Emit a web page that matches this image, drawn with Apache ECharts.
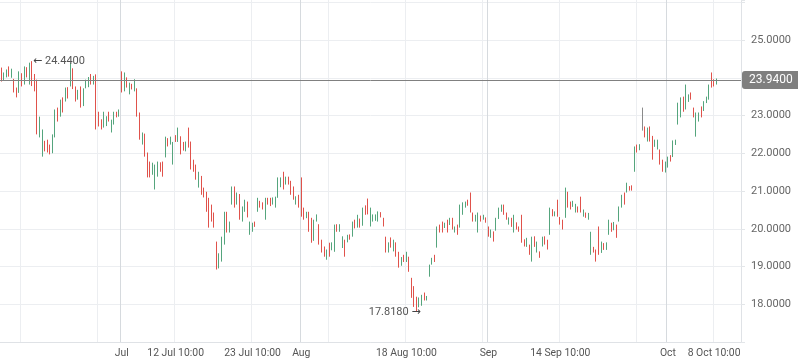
<!DOCTYPE html>
<html><head><meta charset="utf-8">
<script src="https://cdn.jsdelivr.net/npm/echarts@6/dist/echarts.min.js"></script>
<style>html,body{margin:0;padding:0;background:#fff}#c{width:798px;height:363px}</style>
</head><body><div id="c"></div>
<script>
const slotCount = 289;
const categories = Array.from({length: slotCount}, (_, i) => 'c' + i);
const tickLabels = [[47,'Jul'],[68,'12 Jul 10:00'],[98,'23 Jul 10:00'],[117,'Aug'],[158,'18 Aug 10:00'],[190,'Sep'],[218,'14 Sep 10:00'],[260,'Oct'],[278,'8 Oct 10:00']];
const gridLines = [8,38,47,68,98,117,128,158,188,190,218,248,260,278];
const monthLines = [47,117,190,260];
const yTicks = [18,19,20,21,22,23,25];
const lastPrice = 23.94;
// [open, close, low, high]
const ohlc = [
[24.25,23.95,23.90,24.27],[23.95,24.10,23.92,24.14],[24.05,24.20,24.01,24.22],[24.25,24.05,24.03,24.30],[24.05,24.20,24.00,24.24],
[23.95,23.65,23.61,23.97],[23.72,23.52,23.48,23.74],[23.65,24.10,23.60,24.17],[24.09,23.80,23.77,24.12],[23.85,24.25,23.82,24.30],
[24.25,24.05,24.01,24.28],[23.90,24.35,23.82,24.40],[24.20,23.85,23.78,24.44],[23.85,23.70,23.64,24.10],[23.80,22.55,22.50,23.95],
[22.50,22.90,22.42,22.97],[22.05,22.60,21.91,22.63],[22.30,22.08,22.05,22.33],[22.34,22.05,22.02,22.36],[22.20,22.00,21.97,22.23],
[22.02,22.45,22.00,22.50],[22.45,23.10,22.42,23.16],[23.18,22.88,22.84,23.21],[22.98,23.38,22.97,23.42],[23.45,23.12,23.08,23.48],
[23.40,23.70,23.37,23.74],[23.72,23.48,23.45,23.75],[23.78,24.35,23.77,24.40],[24.20,23.75,23.70,24.25],[23.75,23.40,23.37,23.77],
[23.45,23.65,23.42,23.68],[23.75,23.25,23.21,23.77],[23.28,23.70,23.25,23.72],[23.74,23.92,23.72,23.95],[23.78,24.00,23.75,24.02],
[24.08,23.85,23.82,24.10],[23.85,24.02,23.82,24.05],[24.05,22.70,22.63,24.09],[23.08,22.75,22.71,23.10],[22.88,22.66,22.63,22.90],
[22.70,23.05,22.68,23.10],[22.75,22.95,22.72,22.98],[23.08,22.86,22.84,23.10],[22.58,22.86,22.55,22.89],[22.80,23.05,22.76,23.10],
[23.08,22.97,22.95,23.10],[22.98,23.12,22.97,23.16],[24.15,23.62,23.61,24.17],[23.66,24.10,23.64,24.14],[24.00,23.78,23.74,24.01],
[23.58,23.85,23.56,23.87],[23.82,23.72,23.69,23.84],[23.66,23.94,23.64,23.96],[23.69,23.00,22.97,23.72],[23.00,22.40,22.36,23.08],
[22.28,22.52,22.23,22.55],[22.50,21.95,21.91,22.52],[21.98,21.40,21.36,22.02],[21.75,21.50,21.36,21.78],[21.45,21.70,21.43,21.75],
[21.30,21.65,21.04,21.70],[21.45,21.75,21.38,21.78],[21.75,21.55,21.51,21.76],[21.75,21.42,21.38,21.78],[21.92,22.40,21.89,22.44],
[22.36,22.22,22.18,22.40],[22.25,22.40,22.23,22.44],[21.75,22.28,21.70,22.30],[22.44,22.32,22.30,22.48],[22.33,22.62,22.30,22.68],
[22.42,22.00,21.97,22.45],[22.26,22.10,22.07,22.30],[22.08,22.28,22.05,22.31],[22.35,22.18,22.15,22.68],[22.18,21.62,21.57,22.31],
[21.80,21.55,21.51,21.83],[21.65,21.35,21.30,21.70],[21.12,21.45,21.09,21.51],[21.36,20.95,20.90,21.40],[21.05,20.85,20.83,21.09],
[20.95,20.50,20.45,20.98],[20.80,20.10,20.03,20.82],[20.40,20.22,20.19,20.64],[20.40,20.05,20.03,20.43],[19.65,18.98,18.92,19.66],
[18.98,19.25,18.95,19.35],[19.20,19.75,19.13,19.79],[19.70,20.40,19.58,20.45],[20.42,19.98,19.90,20.45],[19.95,20.15,19.90,20.19],
[20.68,21.10,20.64,21.12],[21.10,20.65,20.56,21.12],[20.66,20.92,20.64,20.96],[20.90,20.30,20.24,20.92],[20.30,20.50,20.19,20.59],
[20.48,20.75,20.45,20.77],[20.70,20.33,20.30,20.72],[19.88,20.15,19.84,20.19],[19.95,20.12,19.92,20.16],[20.18,20.06,20.05,20.19],
[20.48,20.78,20.45,20.82],[20.72,20.58,20.56,20.74],[20.68,20.52,20.51,20.70],[20.25,20.78,20.24,20.82],[20.80,20.66,20.64,20.82],
[20.78,20.62,20.60,20.82],[20.65,20.80,20.64,20.83],[20.58,20.82,20.56,20.85],[20.84,21.30,20.82,21.36],[21.12,21.32,21.10,21.36],
[21.40,21.08,21.04,21.51],[21.20,21.35,21.17,21.38],[21.36,21.20,21.17,21.38],[21.25,20.95,20.90,21.27],[21.10,20.80,20.77,21.12],
[20.66,20.83,20.64,20.86],[20.88,20.58,20.56,20.90],[21.30,20.35,20.32,21.36],[20.55,20.27,20.24,20.56],[20.30,20.43,20.28,20.45],
[20.44,19.95,19.92,20.45],[20.05,19.68,19.63,20.29],[19.70,20.15,19.68,20.24],[20.22,20.36,20.19,20.38],[20.10,19.62,19.58,20.12],
[19.68,19.40,19.37,19.71],[19.50,19.28,19.26,19.53],[19.20,19.42,19.18,19.45],[19.60,19.30,19.26,19.63],[19.45,19.62,19.43,19.64],
[19.42,20.05,19.39,20.11],[20.10,19.95,19.92,20.12],[19.95,20.10,19.92,20.12],[19.52,19.78,19.49,19.80],[19.70,19.30,19.26,19.71],
[19.66,19.82,19.64,19.84],[19.84,19.74,19.71,19.85],[19.80,20.15,19.79,20.19],[20.22,20.03,20.01,20.24],[20.05,20.34,20.03,20.37],
[20.25,20.06,20.03,20.27],[20.10,20.50,20.08,20.56],[20.55,20.40,20.37,20.62],[20.76,20.42,20.38,20.80],[20.10,20.50,20.06,20.56],
[20.22,20.36,20.19,20.38],[20.25,20.37,20.21,20.38],[20.22,20.44,20.19,20.46],[20.42,20.32,20.30,20.44],[20.28,20.09,20.06,20.29],
[19.78,19.42,19.37,19.79],[19.40,19.62,19.37,19.64],[19.76,19.52,19.50,19.77],[19.42,19.68,19.40,19.71],[19.62,19.30,19.26,19.64],
[19.35,19.00,18.97,19.39],[19.05,19.22,19.02,19.25],[19.30,19.15,19.12,19.31],[19.14,19.36,19.12,19.39],[19.25,18.90,18.86,19.26],
[18.70,18.22,18.17,18.70],[18.45,17.98,17.93,18.48],[18.18,17.92,17.818,18.20],[17.95,18.15,17.92,18.18],[17.98,18.22,17.96,18.25],
[18.30,18.12,18.10,18.31],[18.12,18.20,18.10,18.22],[18.75,19.02,18.73,19.05],[19.06,19.21,19.05,19.23],[19.30,19.15,19.12,19.31],
[19.52,20.02,19.50,20.06],[20.10,19.92,19.90,20.11],[20.18,19.93,19.90,20.19],[20.03,20.15,20.02,20.16],[20.22,19.95,19.90,20.24],
[20.12,20.26,20.10,20.29],[20.28,20.02,19.98,20.29],[19.92,20.05,19.90,20.06],[20.08,19.88,19.84,20.11],[20.05,20.60,20.03,20.64],
[20.40,20.66,20.37,20.70],[20.58,20.70,20.56,20.72],[20.75,20.62,20.61,20.77],[20.90,20.46,20.43,20.96],[20.42,20.22,20.19,20.43],
[20.22,20.35,20.19,20.37],[20.00,20.40,19.90,20.43],[20.34,20.22,20.19,20.35],[20.26,20.36,20.24,20.37],[20.28,20.18,20.16,20.30],
[20.05,19.82,19.79,20.06],[19.80,19.96,19.76,19.98],[19.92,19.70,19.66,19.93],[19.98,20.26,19.95,20.29],[20.28,20.52,20.26,20.56],
[20.48,20.62,20.45,20.64],[20.62,20.42,20.37,20.64],[20.42,20.26,20.24,20.43],[20.18,20.28,20.11,20.30],[20.26,20.06,20.05,20.29],
[19.94,20.34,19.90,20.37],[20.16,20.00,19.98,20.17],[20.06,19.95,19.92,20.06],[20.35,19.68,19.63,20.37],[19.71,19.56,19.53,19.72],
[19.55,19.74,19.52,19.76],[19.55,19.35,19.31,19.58],[19.36,19.76,19.13,19.79],[19.78,19.55,19.52,19.80],[19.38,19.62,19.37,19.66],
[19.39,19.26,19.23,19.40],[19.55,19.78,19.53,19.79],[19.78,19.62,19.58,19.80],[19.70,19.48,19.45,19.71],[19.86,20.50,19.84,20.56],
[20.50,20.36,20.33,20.52],[20.36,20.45,20.33,20.46],[20.74,20.36,20.32,20.77],[20.30,20.14,20.11,20.31],[20.22,20.00,19.98,20.24],
[20.31,20.98,20.29,21.09],[20.96,20.60,20.56,20.98],[20.70,20.54,20.51,20.72],[20.60,20.72,20.58,20.74],[20.45,20.64,20.43,20.66],
[20.58,20.46,20.43,20.59],[20.82,20.46,20.43,20.85],[20.34,20.50,20.32,20.51],[20.42,20.31,20.29,20.43],[20.26,20.40,20.24,20.42],
[19.34,19.88,19.31,19.92],[19.50,19.40,19.37,19.52],[19.43,19.16,19.13,19.45],[20.05,19.35,19.31,20.06],[19.38,19.62,19.36,19.66],
[19.60,19.48,19.44,19.62],[19.46,19.60,19.44,19.64],[19.86,20.20,19.84,20.24],[20.15,19.95,19.92,20.16],[19.98,20.14,19.96,20.18],
[20.10,19.80,19.76,20.11],[20.20,20.55,20.19,20.59],[20.58,20.86,20.56,20.90],[20.95,20.68,20.64,20.96],[20.98,21.20,20.96,21.22],
[21.12,21.02,21.01,21.13],[21.14,21.03,21.01,21.15],[21.51,22.15,21.51,22.18],[22.22,22.05,22.02,22.23],[22.10,22.22,22.08,22.24],
[22.64,22.64,22.60,23.21],[22.70,22.45,22.42,22.71],[22.35,22.66,22.31,22.68],[22.70,22.35,22.31,22.71],[22.44,21.95,21.83,22.46],
[22.20,22.34,22.17,22.36],[22.14,22.34,22.10,22.36],[22.08,21.75,21.70,22.10],[21.82,21.55,21.51,21.83],[21.52,21.75,21.49,21.78],
[21.64,21.88,21.62,21.91],[21.92,21.80,21.78,21.95],[21.95,22.32,21.90,22.34],[22.24,22.33,22.22,22.36],[22.78,23.30,22.76,23.34],
[22.97,23.42,22.95,23.48],[23.46,23.14,23.10,23.50],[23.18,23.75,23.16,23.82],[23.40,23.52,23.36,23.56],[23.60,23.44,23.42,23.61],
[23.20,22.98,22.95,23.21],[22.48,23.05,22.44,23.08],[22.86,23.06,22.84,23.08],[23.23,22.98,22.95,23.24],[23.15,23.36,23.12,23.38],
[23.35,23.48,23.33,23.50],[23.45,23.80,23.42,23.82],[24.12,23.85,23.74,24.14],[23.94,23.80,23.77,23.96],[23.84,23.94,23.82,23.98]
];

const labelMap = {};
tickLabels.forEach(([i, t]) => { labelMap[i] = t; });
const gridColors = gridLines.map(i => monthLines.includes(i) ? '#d6dade' : '#eceef1');
const arrowRich = {a: {fontFamily: '"DejaVu Sans"', fontSize: 11, color: '#444'}};

const chart = echarts.init(document.getElementById('c'), null, {renderer: 'canvas'});
chart.setOption({
  animation: false,
  backgroundColor: '#ffffff',
  textStyle: {fontFamily: 'Roboto, "Noto Sans", sans-serif'},
  grid: {left: 0, right: 57, top: 0, bottom: 21, containLabel: false},
  xAxis: {
    type: 'category',
    data: categories,
    boundaryGap: true,
    axisLine: {show: true, lineStyle: {color: '#dfe2e6'}},
    axisTick: {show: false},
    axisLabel: {
      color: '#555', fontSize: 10.4, margin: 6,
      interval: (idx) => labelMap[idx] !== undefined,
      formatter: (v, idx) => labelMap[idx] || ''
    },
    splitLine: {
      show: true,
      interval: (idx) => gridLines.includes(idx),
      lineStyle: {color: gridColors, width: 1}
    }
  },
  yAxis: {
    type: 'value',
    position: 'right',
    min: 17, max: 26.06, interval: 1,
    axisLine: {show: true, lineStyle: {color: '#dfe2e6'}},
    axisTick: {show: true, length: 4, lineStyle: {color: '#e3e6e9'}},
    axisLabel: {
      color: '#666', fontSize: 11, margin: 10,
      formatter: (v) => yTicks.includes(Math.round(v * 1000) / 1000) ? v.toFixed(4) : ''
    },
    splitLine: {show: true, showMaxLine: false, lineStyle: {color: '#eceef1'}}
  },
  series: [{
    type: 'candlestick',
    data: ohlc,
    barWidth: 1.2,
    itemStyle: {
      color: '#55a57d', color0: '#e0524b',
      borderColor: '#55a57d', borderColor0: '#e0524b',
      borderColorDoji: '#8a8a8a', borderWidth: 1
    },
    markLine: {
      silent: true,
      symbol: ['none', 'none'],
      lineStyle: {color: '#808080', width: 1, type: 'solid'},
      label: {
        position: 'end', distance: 1,
        formatter: lastPrice.toFixed(4),
        color: '#fff', backgroundColor: '#7f7f7f',
        padding: [3, 8, 3, 7], borderRadius: 3, fontSize: 12
      },
      data: [{yAxis: lastPrice}]
    },
    markPoint: {
      symbol: 'circle', symbolSize: 0,
      label: {color: '#555', fontSize: 11, rich: arrowRich},
      data: [
        {type: 'max', valueDim: 'highest', label: {position: 'right', distance: 1, formatter: p => '{a|\u2190} ' + p.value.toFixed(4)}},
        {type: 'min', valueDim: 'lowest', label: {position: 'left', distance: 1, offset: [5, 1], formatter: p => p.value.toFixed(4) + ' {a|\u2192}'}}
      ]
    }
  }]
});
</script>
</body></html>
